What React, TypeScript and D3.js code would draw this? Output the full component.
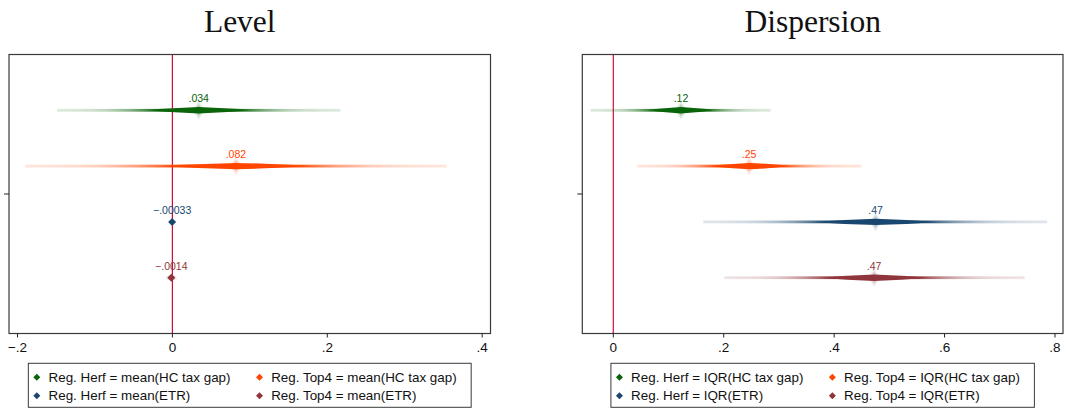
import React, { useEffect, useRef } from "react";
import * as d3 from "d3";

// series (same order in both panels): green, orange, blue, red
const regNames = ["Reg. Herf", "Reg. Top4", "Reg. Herf", "Reg. Top4"];
const varNames = ["HC tax gap", "HC tax gap", "ETR", "ETR"];
const seriesColors = ["#0a640a", "#ff4500", "#1a476f", "#90353b"];

// Level panel: point estimates and outer CI bounds
const levelEst = [0.034, 0.082, -0.00033, -0.0014];
const levelLo = [-0.149, -0.19, -0.002, -0.0085];
const levelHi = [0.217, 0.354, 0.0014, 0.0057];
const levelLabels = [".034", ".082", "\u2212.00033", "\u2212.0014"];
const levelTicks = [-0.2, 0, 0.2, 0.4];
const levelTickLabels = ["\u2212.2", "0", ".2", ".4"];

// Dispersion panel
const dispEst = [0.1225, 0.246, 0.475, 0.4725];
const dispLo = [-0.041, 0.0435, 0.163, 0.201];
const dispHi = [0.285, 0.4495, 0.786, 0.745];
const dispLabels = [".12", ".25", ".47", ".47"];
const dispTicks = [0, 0.2, 0.4, 0.6, 0.8];
const dispTickLabels = ["0", ".2", ".4", ".6", ".8"];

// opacity profile of the CI band, from the estimate (0) to the outer bound (1)
const fadeOffsets = [0, 0.25, 0.31, 0.39, 0.47, 0.56, 0.65, 0.75, 0.87, 1];
const fadeOpacity = [1, 1, 0.88, 0.7, 0.52, 0.38, 0.27, 0.2, 0.16, 0.14];

const W = 1065;
const H = 411;
const plotTop = 54.5;
const plotBottom = 333.5;

export default function App() {
  const ref = useRef<SVGSVGElement>(null);

  useEffect(() => {
    document.body.style.margin = "0";
    const svg = d3.select(ref.current);
    svg.selectAll("*").remove();
    const defs = svg.append("defs");

    const sans = "'Liberation Sans', Arial, sans-serif";
    const y = d3.scaleLinear().domain([0, 5]).range([plotTop, plotBottom]);

    const panels = [
      {
        title: "Level", stat: "mean",
        est: levelEst, lo: levelLo, hi: levelHi, labels: levelLabels,
        ticks: levelTicks, tickLabels: levelTickLabels,
        x: d3.scaleLinear().domain([-0.2, 0.4]).range([17.5, 482.2]),
        x0: 9, x1: 490.5,
      },
      {
        title: "Dispersion", stat: "IQR",
        est: dispEst, lo: dispLo, hi: dispHi, labels: dispLabels,
        ticks: dispTicks, tickLabels: dispTickLabels,
        x: d3.scaleLinear().domain([0, 0.8]).range([613.3, 1055]),
        x0: 582.3, x1: 1063,
      },
    ];

    panels.forEach((p, pi) => {
      const g = svg.append("g");
      const cxPlot = (p.x0 + p.x1) / 2;

      // title
      g.append("text")
        .attr("x", cxPlot - 10)
        .attr("y", 31.5)
        .attr("text-anchor", "middle")
        .style("font-family", "'Liberation Serif', 'DejaVu Serif', serif")
        .style("font-size", "31.5px")
        .attr("fill", "#111")
        .text(p.title);

      // zero line
      g.append("line")
        .attr("x1", p.x(0)).attr("x2", p.x(0))
        .attr("y1", plotTop).attr("y2", plotBottom)
        .attr("stroke", "#d20a3c")
        .attr("stroke-width", 1.2);

      // series
      p.est.forEach((e, i) => {
        const cy = y(i + 1);
        const col = seriesColors[i];
        const cx = p.x(e);
        const xl = p.x(p.lo[i]);
        const xr = p.x(p.hi[i]);
        const span = Math.max(1e-6, xr - xl);

        // gradient fading out from the estimate
        const gid = `band-${pi}-${i}`;
        const grad = defs.append("linearGradient")
          .attr("id", gid)
          .attr("gradientUnits", "userSpaceOnUse")
          .attr("x1", xl).attr("x2", xr).attr("y1", 0).attr("y2", 0);
        const stops: [number, number][] = [];
        fadeOffsets.forEach((f, k) => stops.push([(cx - f * (cx - xl) - xl) / span, fadeOpacity[k]]));
        fadeOffsets.forEach((f, k) => stops.push([(cx + f * (xr - cx) - xl) / span, fadeOpacity[k]]));
        stops.sort((a, b) => a[0] - b[0]);
        stops.forEach(([o, op]) => {
          grad.append("stop")
            .attr("offset", Math.min(1, Math.max(0, o)))
            .attr("stop-color", col)
            .attr("stop-opacity", op);
        });

        const wide = span > 20;
        if (wide) {
          // thin band
          g.append("rect")
            .attr("x", xl).attr("y", cy - 1.4)
            .attr("width", span).attr("height", 2.8)
            .attr("fill", `url(#${gid})`);
          // spindle near the estimate
          const ll = cx - 0.36 * (cx - xl);
          const rr = cx + 0.36 * (xr - cx);
          const hh = 3.2;
          g.append("path")
            .attr("d",
              `M${ll},${cy}` +
              `Q${(ll + cx) / 2},${cy - hh * 0.75} ${cx},${cy - hh}` +
              `Q${(rr + cx) / 2},${cy - hh * 0.75} ${rr},${cy}` +
              `Q${(rr + cx) / 2},${cy + hh * 0.75} ${cx},${cy + hh}` +
              `Q${(ll + cx) / 2},${cy + hh * 0.75} ${ll},${cy}Z`)
            .attr("fill", `url(#${gid})`);
          // faint glow around the point
          [[6, 9, 0.13], [4, 6, 0.2]].forEach(([hw, hv, op]) => {
            g.append("path")
              .attr("d", `M${cx},${cy - hv}L${cx + hw},${cy}L${cx},${cy + hv}L${cx - hw},${cy}Z`)
              .attr("fill", col)
              .attr("fill-opacity", op);
          });
        } else {
          g.append("rect")
            .attr("x", xl).attr("y", cy - 2)
            .attr("width", span).attr("height", 4)
            .attr("fill", `url(#${gid})`)
            .attr("opacity", 0.5);
        }
        const r = wide ? 2.6 : 4;
        g.append("path")
          .attr("d", `M${cx},${cy - r}L${cx + r},${cy}L${cx},${cy + r}L${cx - r},${cy}Z`)
          .attr("fill", col);

        g.append("text")
          .attr("x", cx)
          .attr("y", cy - 8)
          .attr("text-anchor", "middle")
          .style("font-family", sans)
          .style("font-size", "10.5px")
          .attr("fill", col)
          .text(p.labels[i]);
      });

      // frame
      g.append("rect")
        .attr("x", p.x0).attr("y", plotTop)
        .attr("width", p.x1 - p.x0).attr("height", plotBottom - plotTop)
        .attr("fill", "none")
        .attr("stroke", "#3a3a3a")
        .attr("stroke-width", 1.2);

      // y tick
      g.append("line")
        .attr("x1", p.x0 - 5).attr("x2", p.x0)
        .attr("y1", y(2.5)).attr("y2", y(2.5))
        .attr("stroke", "#222").attr("stroke-width", 1);

      // x axis ticks
      p.ticks.forEach((t, k) => {
        g.append("line")
          .attr("x1", p.x(t)).attr("x2", p.x(t))
          .attr("y1", plotBottom).attr("y2", plotBottom + 4)
          .attr("stroke", "#222").attr("stroke-width", 1);
        g.append("text")
          .attr("x", p.x(t))
          .attr("y", plotBottom + 18.5)
          .attr("text-anchor", "middle")
          .style("font-family", sans)
          .style("font-size", "13.5px")
          .attr("fill", "#111")
          .text(p.tickLabels[k]);
      });

      // legend
      const lg = g.append("g");
      const items = regNames.map((rn, i) => `${rn} = ${p.stat}(${varNames[i]})`);
      const texts = items.map((s) =>
        lg.append("text")
          .style("font-family", sans)
          .style("font-size", "13.4px")
          .attr("fill", "#111")
          .text(s)
      );
      const widths = texts.map((t) => (t.node() as SVGTextElement).getComputedTextLength());
      const col1W = Math.max(widths[0], widths[2]);
      const col2W = Math.max(widths[1], widths[3]);
      const padL = 8.5, mk = 11.7, gap = 29, padR = 14.5;
      const boxW = padL + mk + col1W + gap + mk + col2W + padR;
      const bx = cxPlot - boxW / 2;
      const by = 363.3;
      const rowY = [377.3, 395.7];
      lg.insert("rect", "text")
        .attr("x", bx).attr("y", by)
        .attr("width", boxW).attr("height", 44)
        .attr("fill", "white")
        .attr("stroke", "#3a3a3a")
        .attr("stroke-width", 1);
      items.forEach((_, i) => {
        const colIdx = i % 2;
        const rowIdx = Math.floor(i / 2);
        const mx = colIdx === 0 ? bx + padL : bx + padL + mk + col1W + gap;
        const my = rowY[rowIdx];
        const r = 3.5;
        lg.append("path")
          .attr("d", `M${mx},${my - r}L${mx + r},${my}L${mx},${my + r}L${mx - r},${my}Z`)
          .attr("fill", seriesColors[i]);
        texts[i].attr("x", mx + mk).attr("y", my + 4.6);
      });
    });
  }, []);

  return <svg ref={ref} width={W} height={H} style={{ display: "block", background: "white" }} />;
}
